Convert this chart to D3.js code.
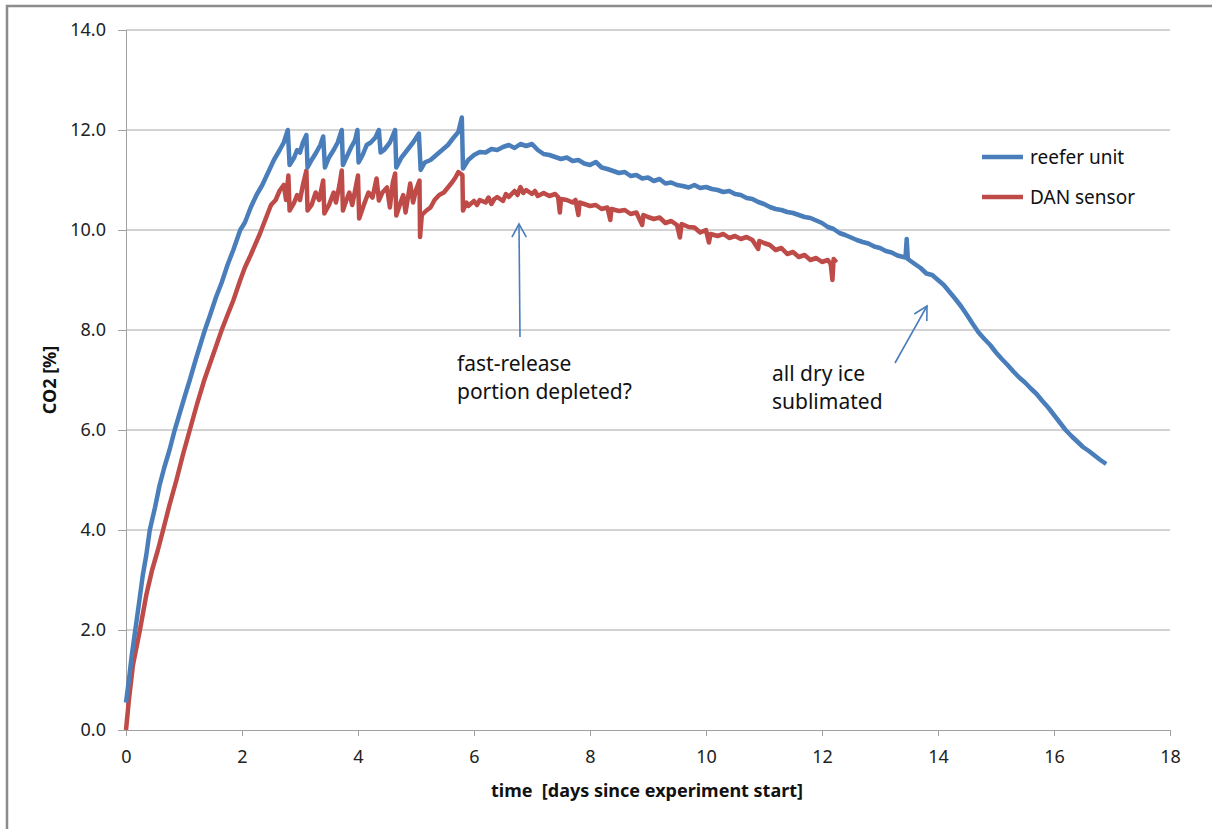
<!DOCTYPE html>
<html>
<head>
<meta charset="utf-8">
<script src="https://cdn.jsdelivr.net/npm/d3@7"></script>
<style>
  body { margin: 0; background: #fff; }
  svg { display: block; font-family: "Noto Sans", "Open Sans", sans-serif; }
</style>
</head>
<body>
<div id="chart"></div>
<script>
var svgWidth = 1212;
var svgHeight = 829;

var margin = { top: 30, right: 42, bottom: 99, left: 126 };
var width = svgWidth - margin.left - margin.right;
var height = svgHeight - margin.top - margin.bottom;

// reefer unit: day / CO2 %
var reeferDays = [0.00,0.05,0.10,0.16,0.22,0.29,0.35,0.41,0.50,0.58,0.66,0.75,0.84,0.93,1.02,1.10,1.20,1.28,1.36,1.45,1.55,1.65,1.75,1.85,1.97,2.05,2.15,2.25,2.35,2.45,2.55,2.65,2.72,2.79,
  2.82,2.90,2.95,3.00,3.05,3.11,3.13,3.20,3.28,3.35,3.40,3.43,3.50,3.58,3.65,3.72,3.74,3.80,3.88,3.95,3.99,4.01,4.08,4.15,4.22,4.30,4.36,4.39,4.45,4.55,4.64,4.66,4.75,4.85,4.95,5.05,
  5.08,5.15,5.25,5.35,5.45,5.55,5.65,5.73,5.79,5.81,5.90,
  6.0,6.1,6.2,6.3,6.4,6.5,6.6,6.7,6.8,6.9,7.0,7.1,7.2,7.3,7.4,7.5,7.6,7.7,7.8,7.9,8.0,8.1,8.2,8.3,8.4,8.5,8.6,8.7,8.8,8.9,
  9.0,9.1,9.2,9.3,9.4,9.5,9.6,9.7,9.8,9.9,10.0,10.1,10.2,10.3,10.4,10.5,10.6,10.7,10.8,10.9,11.0,11.1,11.2,11.3,11.4,11.5,11.6,11.7,11.8,11.9,
  12.0,12.1,12.2,12.3,12.4,12.5,12.6,12.7,12.8,12.9,13.0,13.1,13.2,13.3,13.4,13.44,13.46,13.48,13.6,13.7,13.8,13.9,
  14.0,14.1,14.2,14.3,14.4,14.5,14.6,14.7,14.8,14.9,15.0,15.1,15.2,15.3,15.4,15.5,15.6,15.7,15.8,15.9,
  16.0,16.1,16.2,16.3,16.4,16.5,16.6,16.7,16.8,16.9];
var reeferCO2 = [0.55,1.0,1.5,2.0,2.5,3.1,3.5,4.0,4.45,4.9,5.25,5.6,6.0,6.35,6.7,7.0,7.4,7.7,8.0,8.3,8.65,8.95,9.3,9.6,10.0,10.15,10.45,10.7,10.9,11.15,11.4,11.6,11.75,12.0,
  11.3,11.45,11.6,11.55,11.75,11.9,11.25,11.4,11.55,11.7,11.87,11.25,11.45,11.6,11.75,12.0,11.3,11.45,11.65,11.8,12.0,11.35,11.5,11.7,11.75,11.85,12.0,11.55,11.6,11.75,12.0,11.25,11.45,11.6,11.75,11.93,
  11.2,11.35,11.4,11.5,11.6,11.7,11.85,11.96,12.25,11.23,11.4,
  11.50,11.56,11.55,11.62,11.60,11.66,11.70,11.64,11.72,11.68,11.72,11.60,11.52,11.50,11.46,11.42,11.45,11.38,11.40,11.33,11.30,11.36,11.25,11.22,11.18,11.14,11.16,11.08,11.10,11.03,
  11.05,10.98,11.02,10.93,10.95,10.90,10.88,10.85,10.90,10.84,10.86,10.82,10.80,10.76,10.78,10.72,10.70,10.64,10.62,10.56,10.52,10.46,10.42,10.40,10.36,10.34,10.30,10.26,10.24,10.19,
  10.14,10.06,10.02,9.94,9.90,9.85,9.80,9.76,9.73,9.67,9.64,9.58,9.55,9.49,9.46,9.45,9.82,9.42,9.32,9.24,9.13,9.10,
  9.00,8.90,8.76,8.62,8.47,8.30,8.12,7.95,7.82,7.70,7.55,7.42,7.30,7.17,7.05,6.95,6.83,6.72,6.58,6.45,
  6.30,6.15,6.00,5.88,5.77,5.66,5.58,5.49,5.40,5.32];

// DAN sensor: day / CO2 %
var danDays = [0.00,0.05,0.12,0.24,0.35,0.45,0.55,0.64,0.75,0.87,0.98,1.10,1.22,1.35,1.50,1.65,1.75,1.85,1.97,2.05,2.15,2.31,2.40,2.50,2.58,2.65,2.72,2.76,2.80,
  2.82,2.90,2.95,3.00,3.05,3.11,3.13,3.20,3.27,3.33,3.40,3.42,3.50,3.58,3.62,3.68,3.72,3.74,3.80,3.85,3.90,3.96,4.00,4.02,4.10,4.18,4.25,4.32,4.36,4.42,4.50,4.55,4.60,4.64,4.66,4.72,4.78,4.82,4.90,4.95,5.00,5.06,
  5.07,5.10,5.18,5.25,5.32,5.40,5.48,5.55,5.62,5.68,5.73,5.80,
  5.81,5.87,5.90,6.00,6.05,6.10,6.20,6.25,6.30,6.35,6.40,6.50,6.55,6.60,6.70,6.75,6.80,6.85,6.90,7.00,7.05,7.10,7.20,7.30,7.40,7.45,7.48,7.50,7.60,7.70,7.75,7.80,7.82,7.90,
  8.00,8.10,8.20,8.30,8.35,8.37,8.50,8.60,8.70,8.80,8.90,8.92,9.00,9.10,9.20,9.30,9.40,9.50,9.55,9.58,9.70,9.80,9.90,10.00,10.05,10.08,10.20,10.30,10.40,10.50,10.60,10.70,10.80,10.90,10.92,
  11.00,11.10,11.20,11.30,11.40,11.50,11.60,11.70,11.80,11.90,12.00,12.10,12.15,12.18,12.20,12.25];
var danCO2 = [0.0,0.6,1.3,2.0,2.7,3.2,3.6,4.0,4.5,5.0,5.5,6.0,6.5,7.0,7.5,8.0,8.3,8.59,9.0,9.25,9.5,9.93,10.2,10.5,10.6,10.79,10.9,10.6,11.09,
  10.39,10.55,10.7,10.6,10.9,11.19,10.39,10.5,10.75,10.6,10.99,10.33,10.5,10.75,10.55,10.9,11.19,10.39,10.6,10.75,10.5,10.85,11.09,10.23,10.5,10.75,10.65,11.03,10.59,10.75,10.85,10.45,10.95,11.13,10.29,10.5,10.7,10.35,10.93,10.55,10.8,10.99,
  9.86,10.3,10.39,10.45,10.6,10.7,10.75,10.85,10.95,11.05,11.16,11.1,
  10.39,10.55,10.48,10.58,10.50,10.60,10.55,10.65,10.52,10.62,10.66,10.58,10.72,10.66,10.78,10.70,10.86,10.74,10.80,10.72,10.78,10.68,10.74,10.68,10.72,10.66,10.35,10.62,10.60,10.55,10.60,10.30,10.55,10.52,
  10.48,10.50,10.42,10.45,10.20,10.42,10.38,10.40,10.32,10.35,10.10,10.30,10.26,10.22,10.25,10.14,10.18,10.10,9.85,10.12,10.06,10.05,9.95,10.00,9.75,9.92,9.88,9.92,9.84,9.88,9.82,9.86,9.80,9.62,9.78,
  9.74,9.70,9.60,9.64,9.52,9.56,9.46,9.50,9.40,9.44,9.36,9.40,9.32,9.00,9.42,9.35];

var xTicks = [0, 2, 4, 6, 8, 10, 12, 14, 16, 18];
var yTicks = [0, 2, 4, 6, 8, 10, 12, 14];

var reeferData = reeferDays.map((d, i) => ({ day: d, co2: reeferCO2[i] }));
var danData = danDays.map((d, i) => ({ day: d, co2: danCO2[i] }));

var svg = d3.select("#chart")
  .append("svg")
  .attr("width", svgWidth)
  .attr("height", svgHeight);

svg.append("rect")
  .attr("width", svgWidth)
  .attr("height", svgHeight)
  .attr("fill", "#fff");

// outer chart border (only left and top visible)
svg.append("path")
  .attr("d", "M7,829 L7,6 L1212,6")
  .attr("fill", "none")
  .attr("stroke", "#8c8c8c")
  .attr("stroke-width", 2.5);

var chartGroup = svg.append("g")
  .attr("transform", `translate(${margin.left}, ${margin.top})`);

var xScale = d3.scaleLinear().domain([0, 18]).range([0, width]);
var yScale = d3.scaleLinear().domain([0, 14]).range([height, 0]);

// gridlines
chartGroup.append("g")
  .selectAll("line")
  .data(yTicks.slice(1))
  .enter()
  .append("line")
  .attr("x1", 0)
  .attr("x2", width)
  .attr("y1", d => yScale(d))
  .attr("y2", d => yScale(d))
  .attr("stroke", "#a6a6a6")
  .attr("stroke-width", 1);

var leftAxis = d3.axisLeft(yScale)
  .tickValues(yTicks)
  .tickSize(8)
  .tickPadding(12)
  .tickFormat(d3.format(".1f"));

var bottomAxis = d3.axisBottom(xScale)
  .tickValues(xTicks)
  .tickSize(6)
  .tickPadding(14)
  .tickFormat(d3.format("d"));

var yAxisG = chartGroup.append("g").call(leftAxis);
var xAxisG = chartGroup.append("g")
  .attr("transform", `translate(0, ${height})`)
  .call(bottomAxis);

[yAxisG, xAxisG].forEach(function (g) {
  g.select(".domain").attr("stroke", "#a0a0a0");
  g.selectAll(".tick line").attr("stroke", "#a0a0a0");
  g.selectAll(".tick text")
    .attr("fill", "#222")
    .style("font-size", "18px")
    .style("font-family", "'Noto Sans', sans-serif");
});

var line = d3.line()
  .x(d => xScale(d.day))
  .y(d => yScale(d.co2));

chartGroup.append("path")
  .datum(danData)
  .attr("d", line)
  .attr("fill", "none")
  .attr("stroke", "#be4b48")
  .attr("stroke-width", 4.5)
  .attr("stroke-linejoin", "round");

chartGroup.append("path")
  .datum(reeferData)
  .attr("d", line)
  .attr("fill", "none")
  .attr("stroke", "#4a7ebb")
  .attr("stroke-width", 4.5)
  .attr("stroke-linejoin", "round");

// legend
var legendItems = [
  { name: "reefer unit", color: "#4a7ebb", y: 157 },
  { name: "DAN sensor", color: "#be4b48", y: 197 }
];
legendItems.forEach(function (item) {
  svg.append("line")
    .attr("x1", 982).attr("x2", 1023)
    .attr("y1", item.y).attr("y2", item.y)
    .attr("stroke", item.color)
    .attr("stroke-width", 4.5);
  svg.append("text")
    .attr("x", 1030)
    .attr("y", item.y)
    .attr("dy", "0.35em")
    .attr("font-size", "19px")
    .attr("fill", "#111")
    .text(item.name);
});

// annotations
function arrow(x1, y1, x2, y2) {
  var ang = Math.atan2(y2 - y1, x2 - x1);
  var len = 15, spread = 0.5;
  var g = svg.append("g").attr("stroke", "#4a7ebb").attr("stroke-width", 1.6).attr("fill", "none");
  g.append("line").attr("x1", x1).attr("y1", y1).attr("x2", x2).attr("y2", y2);
  g.append("path").attr("d",
    `M${x2 - len * Math.cos(ang - spread)},${y2 - len * Math.sin(ang - spread)} L${x2},${y2} L${x2 - len * Math.cos(ang + spread)},${y2 - len * Math.sin(ang + spread)}`);
}
arrow(520, 337, 519, 224);
arrow(895, 363, 927, 306);

var notes = [
  { x: 457, y: 371, text: "fast-release" },
  { x: 457, y: 399, text: "portion depleted?" },
  { x: 772, y: 381, text: "all dry ice" },
  { x: 772, y: 409, text: "sublimated" }
];
svg.selectAll(".note")
  .data(notes)
  .enter()
  .append("text")
  .attr("class", "note")
  .attr("x", d => d.x)
  .attr("y", d => d.y)
  .attr("font-size", "21px")
  .attr("fill", "#111")
  .text(d => d.text);

// axis titles
svg.append("text")
  .attr("x", 647)
  .attr("y", 797)
  .attr("text-anchor", "middle")
  .attr("font-size", "18px")
  .attr("font-weight", "bold")
  .attr("fill", "#111")
  .style("white-space", "pre")
  .text("time  [days since experiment start]");

svg.append("text")
  .attr("transform", "translate(56, 380) rotate(-90)")
  .attr("text-anchor", "middle")
  .attr("font-size", "18px")
  .attr("font-weight", "bold")
  .attr("fill", "#111")
  .text("CO2 [%]");
</script>
</body>
</html>
